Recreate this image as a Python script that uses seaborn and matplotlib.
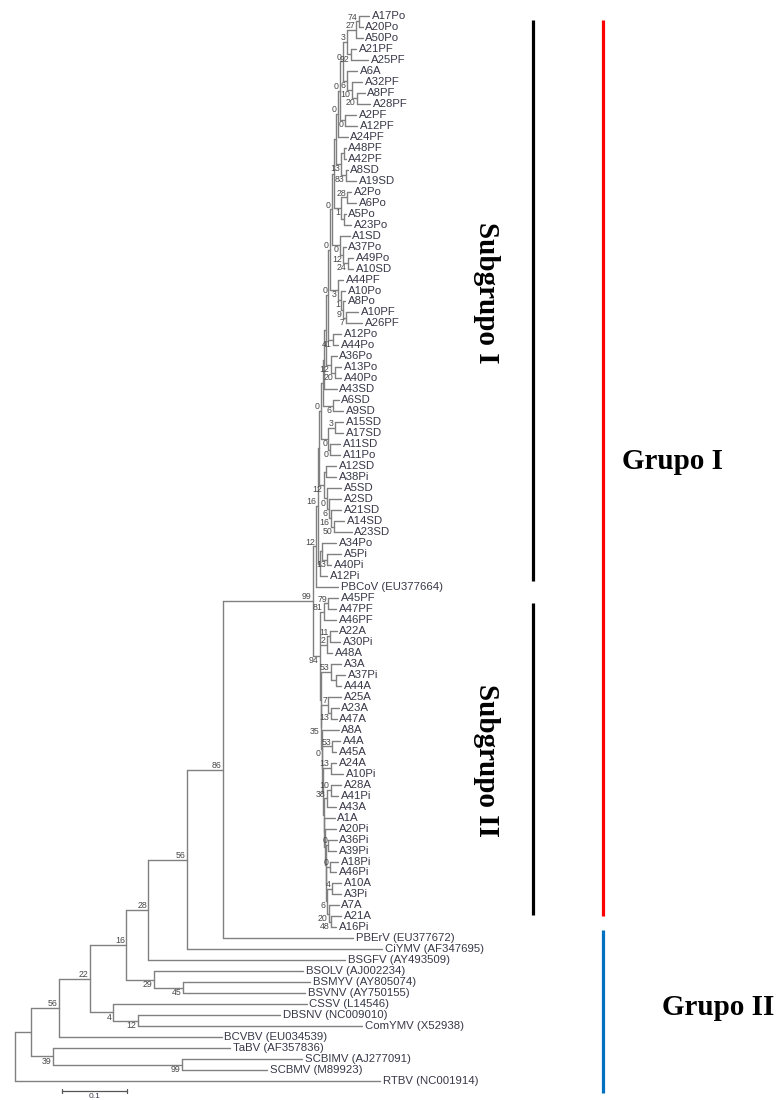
import matplotlib
matplotlib.use("Agg")
import matplotlib.pyplot as plt
import pandas as pd
import seaborn as sns

# leaves, top to bottom, with distance from the root (substitutions/site)
leaf_names = [
    "A17Po", "A20Po", "A50Po", "A21PF", "A25PF", "A6A", "A32PF", "A8PF", "A28PF",
    "A2PF", "A12PF", "A24PF", "A48PF", "A42PF", "A8SD", "A19SD", "A2Po", "A6Po",
    "A5Po", "A23Po", "A1SD", "A37Po", "A49Po", "A10SD", "A44PF", "A10Po", "A8Po",
    "A10PF", "A26PF", "A12Po", "A44Po", "A36Po", "A13Po", "A40Po", "A43SD", "A6SD",
    "A9SD", "A15SD", "A17SD", "A11SD", "A11Po", "A12SD", "A38Pi", "A5SD", "A2SD",
    "A21SD", "A14SD", "A23SD", "A34Po", "A5Pi", "A40Pi", "A12Pi", "PBCoV (EU377664)",
    "A45PF", "A47PF", "A46PF", "A22A", "A30Pi", "A48A", "A3A", "A37Pi", "A44A",
    "A25A", "A23A", "A47A", "A8A", "A4A", "A45A", "A24A", "A10Pi", "A28A", "A41Pi",
    "A43A", "A1A", "A20Pi", "A36Pi", "A39Pi", "A18Pi", "A46Pi", "A10A", "A3Pi",
    "A7A", "A21A", "A16Pi", "PBErV (EU377672)", "CiYMV (AF347695)", "BSGFV (AY493509)",
    "BSOLV (AJ002234)", "BSMYV (AY805074)", "BSVNV (AY750155)", "CSSV (L14546)",
    "DBSNV (NC009010)", "ComYMV (X52938)", "BCVBV (EU034539)", "TaBV (AF357836)",
    "SCBIMV (AJ277091)", "SCBMV (M89923)", "RTBV (NC001914)",
]
leaf_depth = [
    0.545, 0.535, 0.535, 0.525, 0.543, 0.526, 0.534, 0.538, 0.546,
    0.525, 0.526, 0.512, 0.509, 0.509, 0.512, 0.525, 0.517, 0.525,
    0.509, 0.517, 0.515, 0.509, 0.520, 0.520, 0.505, 0.508, 0.508,
    0.528, 0.534, 0.502, 0.497, 0.495, 0.502, 0.502, 0.495, 0.498,
    0.505, 0.505, 0.505, 0.500, 0.500, 0.494, 0.494, 0.502, 0.502,
    0.502, 0.506, 0.518, 0.494, 0.502, 0.486, 0.480, 0.497,
    0.497, 0.494, 0.494, 0.495, 0.500, 0.488, 0.502, 0.508, 0.502,
    0.502, 0.498, 0.495, 0.498, 0.500, 0.494, 0.494, 0.505, 0.502, 0.497,
    0.494, 0.492, 0.494, 0.495, 0.494, 0.497, 0.494, 0.502, 0.502,
    0.498, 0.502, 0.494, 0.520, 0.565, 0.508,
    0.443, 0.454, 0.446, 0.449, 0.408, 0.534, 0.318, 0.331, 0.442, 0.388, 0.562,
]

# internal nodes: children (top to bottom), depth and bootstrap value
node_names = [
    "root", "n56a", "n22", "n39", "n99b", "n16", "n4", "n12b", "n28", "n29", "n45", "n56b", "n86", "n99a", "n81",
    "nB", "nC", "cK", "cI", "c13d", "S10", "c12c", "cH", "c0d", "c6b", "c16b", "c50",
    "S9", "c0c", "c31", "cG", "S8", "c6a", "S7", "S6", "c12b", "c20b", "S5", "c41",
    "S4", "c3b", "c1b", "c9", "c7", "S3", "c0a", "c12a", "c24", "S2", "c1", "c28", "cF", "S1", "c13a", "cE", "c83",
    "cT3", "cT2", "cB", "cT1", "c3", "c27", "c74", "c92", "c6", "c10", "c20",
    "n94", "c81", "c79", "c2", "c11", "B10", "c53a", "cL", "B9", "c7b", "c13b", "B8", "B7", "c53b",
    "B6", "c13c", "B5", "c38", "c10b", "B4", "B3", "B2", "c0e", "B1", "c0f", "c6c", "c4", "c20c", "c48",
]
node_kids = [
    ["n56a", "RTBV (NC001914)"], ["n22", "n39"], ["n16", "BCVBV (EU034539)"],
    ["TaBV (AF357836)", "n99b"], ["SCBIMV (AJ277091)", "SCBMV (M89923)"], ["n28", "n4"],
    ["CSSV (L14546)", "n12b"], ["DBSNV (NC009010)", "ComYMV (X52938)"], ["n56b", "n29"],
    ["BSOLV (AJ002234)", "n45"], ["BSMYV (AY805074)", "BSVNV (AY750155)"], ["n86", "BSGFV (AY493509)"],
    ["n99a", "CiYMV (AF347695)"], ["n81", "PBErV (EU377672)"], ["nB", "n94"],
    ["nC", "PBCoV (EU377664)"], ["S10", "cK"], ["cI", "A12Pi"], ["A34Po", "c13d"], ["A5Pi", "A40Pi"],
    ["S9", "c12c"], ["cH", "c0d"], ["A12SD", "A38Pi"], ["A5SD", "c6b"], ["A2SD", "c16b"],
    ["A21SD", "c50"], ["A14SD", "A23SD"],
    ["S8", "c0c"], ["c31", "cG"], ["A15SD", "A17SD"], ["A11SD", "A11Po"], ["S7", "c6a"],
    ["A6SD", "A9SD"], ["S6", "A43SD"], ["S5", "c12b"], ["A36Po", "c20b"], ["A13Po", "A40Po"],
    ["S4", "c41"], ["A12Po", "A44Po"],
    ["S3", "c3b"], ["A44PF", "c1b"], ["A10Po", "c9"], ["A8Po", "c7"], ["A10PF", "A26PF"],
    ["S2", "c0a"], ["A1SD", "c12a"], ["A37Po", "c24"], ["A49Po", "A10SD"], ["S1", "c1"],
    ["c28", "cF"], ["A2Po", "A6Po"], ["A5Po", "A23Po"], ["cT3", "c13a"], ["cE", "c83"],
    ["A48PF", "A42PF"], ["A8SD", "A19SD"],
    ["cT2", "A24PF"], ["cT1", "cB"], ["A2PF", "A12PF"], ["c3", "c6"], ["c27", "c92"],
    ["c74", "A50Po"], ["A17Po", "A20Po"], ["A21PF", "A25PF"], ["A6A", "c10"], ["A32PF", "c20"],
    ["A8PF", "A28PF"],
    ["c81", "c2", "B10"], ["c79", "A46PF"], ["A45PF", "A47PF"], ["c11", "A48A"], ["A22A", "A30Pi"],
    ["c53a", "B9"], ["A3A", "cL"], ["A37Pi", "A44A"], ["c7b", "B8"], ["A25A", "c13b"],
    ["A23A", "A47A"], ["A8A", "B7"], ["c53b", "B6"], ["A4A", "A45A"],
    ["c13c", "B5"], ["A24A", "A10Pi"], ["c38", "B4"], ["c10b", "A43A"], ["A28A", "A41Pi"],
    ["A1A", "B3"], ["A20Pi", "B2"], ["c0e", "B1"], ["A36Pi", "A39Pi"], ["c0f", "c6c"],
    ["A18Pi", "A46Pi"], ["c4", "c20c"], ["A10A", "A3Pi"], ["A7A", "c48"], ["A21A", "A16Pi"],
]
node_depth = [
    0.000, 0.025, 0.068, 0.058, 0.257, 0.115, 0.151, 0.189, 0.171, 0.214, 0.258, 0.205, 0.265, 0.320, 0.458,
    0.463, 0.466, 0.469, 0.472, 0.480, 0.468, 0.475, 0.478, 0.480, 0.483, 0.486, 0.491,
    0.471, 0.482, 0.492, 0.485, 0.474, 0.489, 0.475, 0.478, 0.486, 0.492, 0.482, 0.489,
    0.485, 0.497, 0.502, 0.505, 0.509, 0.488, 0.500, 0.505, 0.512, 0.491, 0.502, 0.511, 0.506, 0.494, 0.502, 0.506, 0.509,
    0.497, 0.500, 0.508, 0.505, 0.511, 0.525, 0.529, 0.517, 0.511, 0.518, 0.526,
    0.469, 0.475, 0.482, 0.480, 0.485, 0.470, 0.486, 0.494, 0.471, 0.482, 0.486, 0.472, 0.473, 0.488,
    0.474, 0.486, 0.475, 0.480, 0.486, 0.476, 0.477, 0.478, 0.482, 0.479, 0.485, 0.480, 0.488, 0.483, 0.486,
]
node_boot = [
    "", "", "56", "39", "99", "22", "4", "12", "16", "29", "45", "28", "56", "86", "99",
    "12", "16", "", "", "13", "", "12", "", "0", "6", "16", "50",
    "0", "0", "3", "0", "", "6", "", "", "12", "20", "0", "41",
    "0", "3", "1", "9", "7", "0", "0", "12", "24", "", "1", "28", "", "", "13", "", "83",
    "0", "0", "0", "0", "3", "27", "74", "92", "6", "10", "20",
    "94", "81", "79", "2", "11", "", "53", "", "35", "7", "13", "0", "", "53",
    "", "13", "", "38", "10", "", "", "", "0", "", "0", "6", "4", "20", "48",
]

scale_len = 0.1

sns.set_style("white")
plt.rcParams["font.family"] = ["Liberation Sans", "DejaVu Sans"]

depth = dict(zip(leaf_names, leaf_depth))
depth.update(zip(node_names, node_depth))
kids = dict(zip(node_names, node_kids))
boot = dict(zip(node_names, node_boot))
parent = {c: n for n in node_names for c in kids[n]}

# leaves sit on rows 0..n-1, internal nodes halfway between first and last child
ypos = {name: i for i, name in enumerate(leaf_names)}


def get_y(name):
    if name not in ypos:
        ch = kids[name]
        ypos[name] = (get_y(ch[0]) + get_y(ch[-1])) / 2
    return ypos[name]


for n in node_names:
    get_y(n)

# rectangular tree -> line segments
rows = []
seg = 0
for n in node_names:
    ch = kids[n]
    x0 = depth[n]
    rows += [(seg, x0, ypos[ch[0]]), (seg, x0, ypos[ch[-1]])]
    seg += 1
    for c in ch:
        rows += [(seg, x0, ypos[c]), (seg, depth[c], ypos[c])]
        seg += 1
segs = pd.DataFrame(rows, columns=["seg", "x", "y"])

fig = plt.figure(figsize=(7.78, 11.0), dpi=100)
ax = fig.add_axes([0, 0, 1, 1])
sns.lineplot(data=segs, x="x", y="y", units="seg", estimator=None, sort=False,
             color="#808080", linewidth=1.0, ax=ax, legend=False)

# taxon names
for name, d in zip(leaf_names, leaf_depth):
    ax.text(d + 0.004, ypos[name], name, ha="left", va="center",
            fontsize=8.2, color="#383848")

# bootstrap values, left of each node
for n in node_names:
    if not boot[n]:
        continue
    sib = kids[parent[n]]
    dy = 0.42 if n == sib[-1] else -0.38
    ax.text(depth[n] - 0.002, ypos[n] + dy, boot[n], ha="right", va="center",
            fontsize=6.3, color="#484848")

# scale bar
sb_x, sb_y = 0.072, 97.9
ax.plot([sb_x, sb_x + scale_len], [sb_y, sb_y], color="#555555", lw=0.9)
for xx in (sb_x, sb_x + scale_len):
    ax.plot([xx, xx], [sb_y - 0.2, sb_y + 0.2], color="#555555", lw=0.9)
ax.text(sb_x + scale_len / 2, sb_y + 0.2, "0.1", ha="center", va="top",
        fontsize=6, color="#3a3a4a")

# group brackets and names
ax.plot([0.797, 0.797], [0.36, 51.5], color="black", lw=2.3, solid_capstyle="butt")
ax.plot([0.797, 0.797], [53.5, 81.9], color="black", lw=2.3, solid_capstyle="butt")
ax.plot([0.905, 0.905], [0.36, 82.0], color="#ff0000", lw=2.3, solid_capstyle="butt")
ax.plot([0.905, 0.905], [83.2, 98.1], color="#0070c0", lw=2.3, solid_capstyle="butt")

big = dict(family="Liberation Serif", weight="bold", fontsize=21, color="black")
ax.text(0.726, 25.2, "Subgrupo I", rotation=270, ha="center", va="center", **big)
ax.text(0.726, 67.8, "Subgrupo II", rotation=270, ha="center", va="center", **big)
ax.text(0.934, 40.6, "Grupo I", ha="left", va="center", **big)
ax.text(0.995, 90.3, "Grupo II", ha="left", va="center", **big)

ax.set_xlim(-0.0231, 1.1738)
ax.set_ylim(98.72, -1.457)
ax.axis("off")

fig.savefig("out.png", dpi=100)
